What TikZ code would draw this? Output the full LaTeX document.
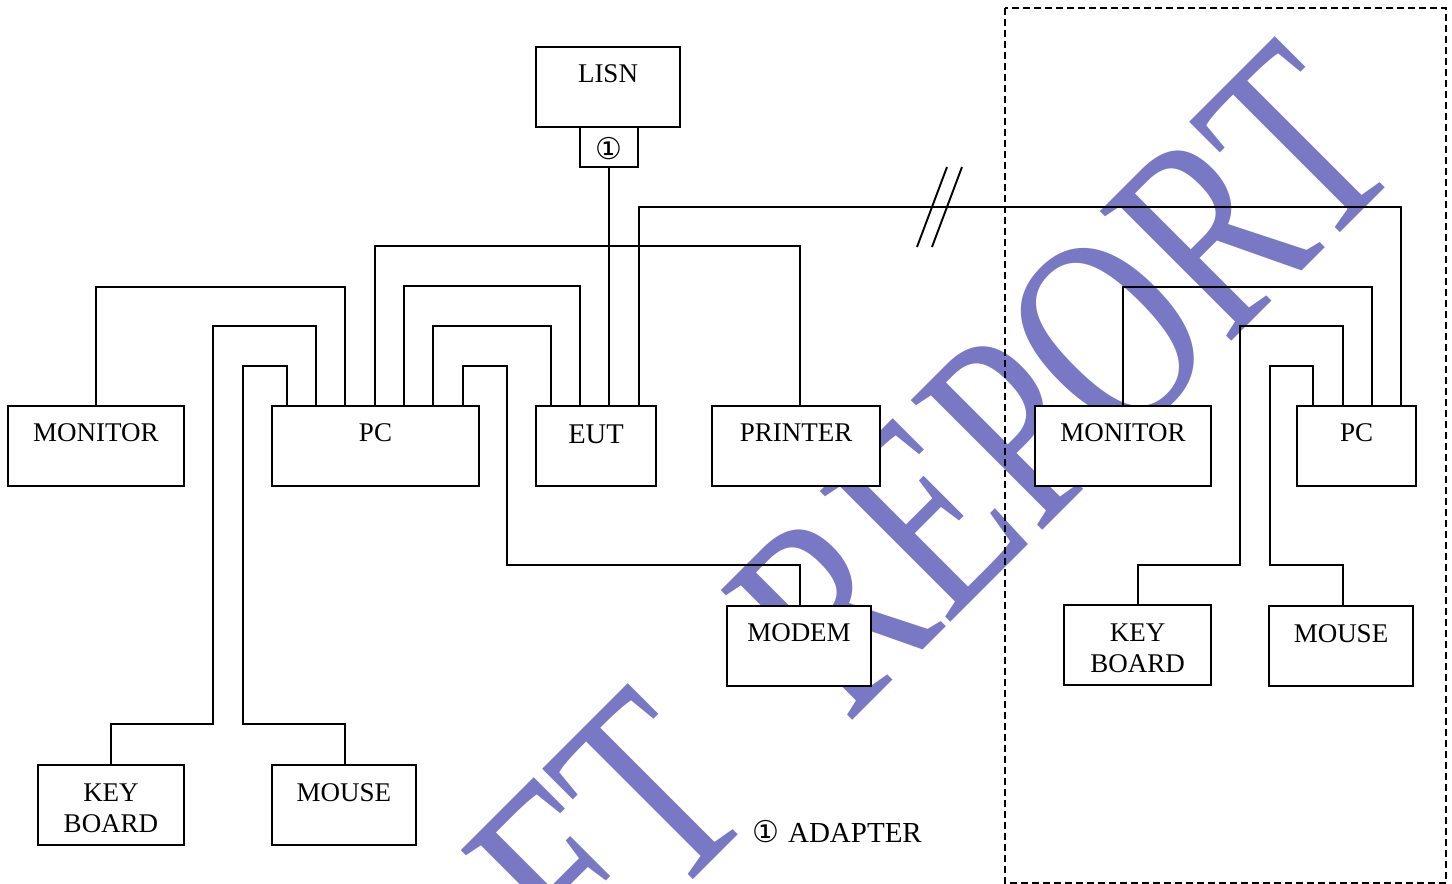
\documentclass[tikz,border=0pt]{standalone}
\usepackage{fontspec}
\setmainfont{Liberation Serif}
\newfontfamily\symfont{DejaVu Sans}
\definecolor{wmblue}{RGB}{120,120,196}
\begin{document}
\begin{tikzpicture}[x=1pt,y=-1pt,
  box/.style={draw, line width=1.9pt, fill=white, inner sep=0pt, outer sep=0pt, anchor=north west,
    minimum height=80pt, text height=35.5pt, text depth=44.5pt,
    font=\fontsize{27}{31}\selectfont},
  adbox/.style={draw, line width=1.9pt, fill=white, inner sep=0pt, outer sep=0pt, anchor=north west,
    minimum width=58pt, text height=32pt, text depth=8pt,
    font=\symfont\fontsize{30}{30}\selectfont},
  wire/.style={line width=1.9pt},
  frame/.style={line width=1.6pt, dash pattern=on 7pt off 4pt},
  wm/.style={anchor=base east, inner sep=0pt, rotate=45, xscale=0.745,
    text=wmblue, font=\fontsize{282}{282}\selectfont}]
\useasboundingbox (0,0) rectangle (1452,884);
\clip (0,0) rectangle (1452,884);

% watermark
\node[wm] (wmark) at (1408,165) {DRAFT\hspace{0.58em}REPORT};

% boxes
\node[box, minimum width=144pt] (lisn) at (536,47) {LISN};
\node[adbox] (adp) at (580,127) {①};
\node[box, minimum width=176pt] (monL) at (8,406) {MONITOR};
\node[box, minimum width=207pt] (pcL) at (272,406) {PC};
\node[box, minimum width=120pt, text height=37pt, text depth=43pt,
  font=\fontsize{28.5}{31}\selectfont] (eut) at (536,406) {EUT};
\node[box, minimum width=168pt] (prn) at (712,406) {PRINTER};
\node[box, minimum width=144pt] (modem) at (727,606) {MODEM};
\node[box, minimum width=146pt, text depth=43.5pt] (kbL) at (38,765)
  {\begin{tabular}[t]{@{}c@{}}KEY\\BOARD\end{tabular}};
\node[box, minimum width=144pt, text depth=43.5pt] (msL) at (272,765) {MOUSE};
\node[box, minimum width=176pt] (monR) at (1035,406) {MONITOR};
\node[box, minimum width=119pt] (pcR) at (1297,406) {PC};
\node[box, minimum width=147pt, text depth=43.5pt] (kbR) at (1064,605)
  {\begin{tabular}[t]{@{}c@{}}KEY\\BOARD\end{tabular}};
\node[box, minimum width=144pt, text depth=43.5pt] (msR) at (1269,606) {MOUSE};

% connectors (left group)
\draw[wire] (monL.north) -- ++(0,-119) -| ([xshift=73pt]pcL.north west);
\draw[wire] ([xshift=73pt]kbL.north west) |- (213,724) -- (213,326) -| ([xshift=44pt]pcL.north west);
\draw[wire] ([xshift=73pt]msL.north west) |- (243,724) -- (243,366) -| ([xshift=15pt]pcL.north west);
\draw[wire] ([xshift=103pt]pcL.north west) -- ++(0,-160) -| ([xshift=88pt]prn.north west);
\draw[wire] ([xshift=132pt]pcL.north west) -- ++(0,-120) -| ([xshift=44pt]eut.north west);
\draw[wire] ([xshift=161pt]pcL.north west) -- ++(0,-80) -| ([xshift=15pt]eut.north west);
\draw[wire] ([xshift=191pt]pcL.north west) -- ++(0,-40) -| (507,565) -| ([xshift=73pt]modem.north west);
\draw[wire] (adp.south) -- ([xshift=73pt]eut.north west);
\draw[wire] ([xshift=103pt]eut.north west) -- ++(0,-199) -| ([xshift=104pt]pcR.north west);

% connectors (right group)
\draw[wire] (monR.north) -- ++(0,-119) -| ([xshift=75pt]pcR.north west);
\draw[wire] ([xshift=74pt]kbR.north west) |- (1240,565) -- (1240,326) -| ([xshift=46pt]pcR.north west);
\draw[wire] ([xshift=74pt]msR.north west) |- (1270,565) -- (1270,366) -| ([xshift=16pt]pcR.north west);

% break mark
\draw[wire] (917,247) -- (947,167);
\draw[wire] (932,247) -- (962,167);

% dashed frame
\draw[frame] (1005,8) rectangle (1446,883);

% legend
\node[anchor=base west, inner sep=0pt, font=\fontsize{29}{31}\selectfont] (legend) at (752,842)
  {{\symfont\fontsize{30}{30}\selectfont ①}\hspace{9pt}ADAPTER};
\end{tikzpicture}
\end{document}
